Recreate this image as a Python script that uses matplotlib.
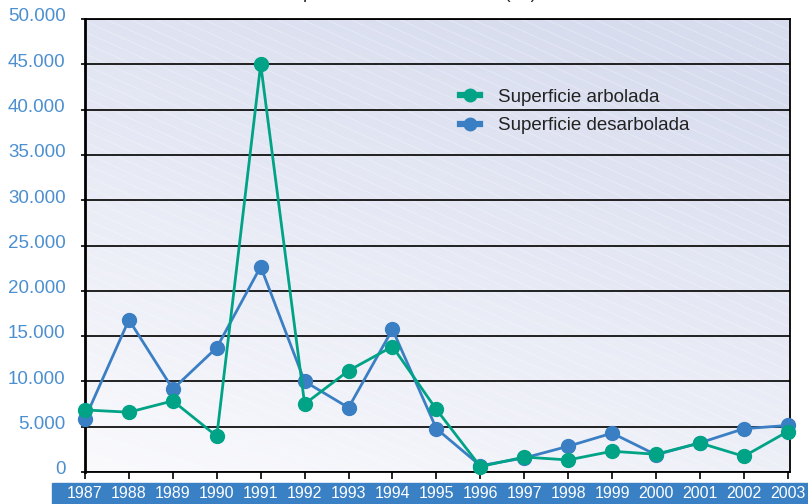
import numpy as np
import matplotlib as mpl
import matplotlib.pyplot as plt
from matplotlib.lines import Line2D
from matplotlib.patches import Rectangle
from matplotlib.transforms import ScaledTranslation

# datos (ha)
years = list(range(1987, 2004))
arbolada = [6850, 6600, 7850, 3950, 45000, 7500, 11180, 13850, 6900,
            600, 1650, 1330, 2290, 1960, 3200, 1730, 4470]
desarbolada = [5900, 16800, 9150, 13730, 22670, 10000, 7100, 15740, 4780,
               700, 1550, 2840, 4290, 1900, 3220, 4780, 5140]
yticks = [0, 5000, 10000, 15000, 20000, 25000, 30000, 35000, 40000, 45000, 50000]
ytick_labels = ['0', '5.000', '10.000', '15.000', '20.000', '25.000',
                '30.000', '35.000', '40.000', '45.000', '50.000']
series_names = ['Superficie arbolada', 'Superficie desarbolada']

green = '#00a386'
blue = '#3a7fc3'
label_blue = '#4b8fd0'

W, H = 808, 504
fig = plt.figure(figsize=(W / 100, H / 100), dpi=100)
fig.patch.set_facecolor('white')

# banda azul inferior (detras de todo)
fig.patches.append(Rectangle((52 / W, 0), 1 - 52 / W, 21 / H,
                             transform=fig.transFigure, color='#3a80c4',
                             zorder=-5))

# ejes en pixeles
l, r, t, b = 85, 790, 19, 472
ax = fig.add_axes([l / W, 1 - b / H, (r - l) / W, (b - t) / H])

# fondo degradado
ny, nx = 200, 300
yy, xx = np.mgrid[0:1:ny * 1j, 0:1:nx * 1j]
tt = np.clip(0.75 * yy + 0.35 * xx, 0, 1)
c_low = np.array([250, 250, 253]) / 255
c_high = np.array([215, 220, 238]) / 255
img = c_low + (c_high - c_low) * tt[..., None]
ax.imshow(img, extent=[0, 1, 0, 1], origin='lower', aspect='auto',
          transform=ax.transAxes, zorder=0, interpolation='bilinear')

# rayado diagonal tenue
pw, ph = r - l, b - t
for y0 in np.arange(0, ph + 0.45 * pw + 12, 11):
    ax.plot([0, 1], [y0 / ph, (y0 - 0.45 * pw) / ph], color='white',
            lw=0.6, alpha=0.35, transform=ax.transAxes, zorder=0.5)

ax.plot(years, desarbolada, color=blue, lw=2, marker='o', ms=10,
        zorder=3, clip_on=False)
ax.plot(years, arbolada, color=green, lw=2, marker='o', ms=10,
        zorder=4, clip_on=False)

ax.set_xlim(1987, 2003.05)
ax.set_ylim(0, 50000)

ax.set_yticks(yticks)
ax.set_yticklabels(ytick_labels)
ax.grid(axis='y', color='#111111', lw=1.3, zorder=1)
ax.set_axisbelow(True)
ax.tick_params(axis='y', length=3, width=1.2, color='black', pad=11,
               labelsize=13.5, labelcolor=label_blue)
for lab in ax.get_yticklabels():
    lab.set_fontfamily('Liberation Sans')
    lab.set_transform(lab.get_transform() +
                      ScaledTranslation(0, 3 / 72, fig.dpi_scale_trans))

ax.set_xticks(years)
ax.set_xticklabels([str(y) for y in years])
ax.tick_params(axis='x', length=5, width=1.2, color='black', pad=5,
               labelsize=11.5, labelcolor='white')
for lab in ax.get_xticklabels():
    lab.set_fontfamily('Liberation Sans')
# el ultimo año queda pegado al borde derecho
ax.get_xticklabels()[-1].set_horizontalalignment('right')
ax.get_xticklabels()[-1].set_transform(
    ax.get_xticklabels()[-1].get_transform() +
    ScaledTranslation(18 / 100, 0, fig.dpi_scale_trans))

for s in ax.spines.values():
    s.set_color('black')
    s.set_linewidth(1.3)
ax.spines['left'].set_linewidth(2)

# leyenda
handles = [Line2D([], [], color=green, lw=4.5, marker='o', ms=9),
           Line2D([], [], color=blue, lw=4.5, marker='o', ms=9)]
ax.legend(handles, series_names, loc='upper left',
          bbox_to_anchor=((443 - l) / pw, (b - 72) / ph), frameon=False,
          prop={'family': 'Liberation Sans', 'size': 13.5},
          handlelength=1.1, handletextpad=0.95, labelspacing=0.6,
          labelcolor='#222222')

# titulo (recortado en la parte superior)
fig.text(537 / W, 1 + 1.5 / H, 'Superficie forestal afectada (ha)',
         ha='right', va='baseline', fontsize=13, color='#222222',
         family='Liberation Sans')

plt.savefig('out.png', dpi=100)
